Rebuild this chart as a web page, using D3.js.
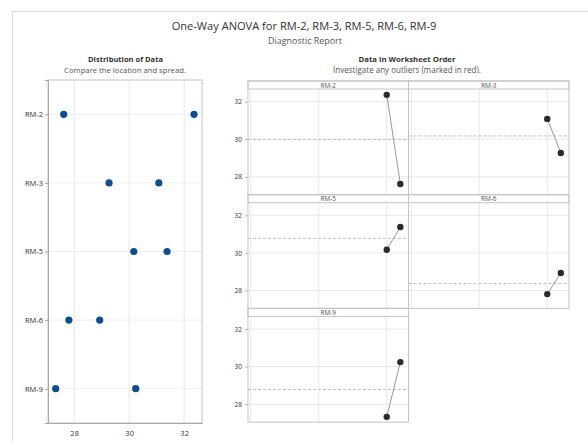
<!DOCTYPE html>
<html><head><meta charset="utf-8">
<script src="https://cdn.jsdelivr.net/npm/d3@7"></script>
<style>
body{margin:0;background:#fff;}
svg text{font-family:"Open Sans","Noto Sans",sans-serif;}
</style>
</head><body>
<svg id="c" width="588" height="441"></svg>
<script>
// ---- data ----
const groups = ["RM-2", "RM-3", "RM-5", "RM-6", "RM-9"];
const firstObs = [32.36, 31.08, 30.17, 27.81, 27.33];
const secondObs = [27.62, 29.27, 31.38, 28.93, 30.24];
const rowNumbers = [10, 11];
const valueTicks = [28, 30, 32];
const orderTicks = [0, 5, 10];
const titleText = "One-Way ANOVA for RM-2, RM-3, RM-5, RM-6, RM-9";
const subtitleText = "Diagnostic Report";

const svg = d3.select("#c");
const gridColor = "#e8e8e8";
const frameColor = "#c4c4c4";
const fmt = d3.format("d");

// outer frame
svg.append("rect").attr("x", 12.5).attr("y", 11.5).attr("width", 600).attr("height", 460)
  .attr("fill", "none").attr("stroke", "#dedede");

function fitText(sel, target) {
  const n = sel.node();
  const fs = parseFloat(sel.attr("font-size"));
  const w = n.getComputedTextLength();
  if (w > 0) sel.attr("font-size", (fs * target / w).toFixed(2));
}

const t1 = svg.append("text").attr("x", 304).attr("y", 30).attr("text-anchor", "middle")
  .attr("font-size", 13).attr("fill", "#333").text(titleText);
fitText(t1, 265);
const t2 = svg.append("text").attr("x", 305).attr("y", 43.5).attr("text-anchor", "middle")
  .attr("font-size", 10).attr("fill", "#555").text(subtitleText);
fitText(t2, 74);

// ---- left: distribution of data ----
const L = {x0: 48, x1: 202, y0: 80, y1: 423};
const h1 = svg.append("text").attr("x", 125.5).attr("y", 62).attr("text-anchor", "middle")
  .attr("font-size", 8).attr("font-weight", "bold").attr("fill", "#333").text("Distribution of Data");
fitText(h1, 75);
const h2 = svg.append("text").attr("x", 125).attr("y", 72.5).attr("text-anchor", "middle")
  .attr("font-size", 8).attr("fill", "#555").text("Compare the location and spread.");
fitText(h2, 122);

const xL = d3.scaleLinear().domain([27.05, 32.65]).range([L.x0, L.x1]);
const yL = d3.scalePoint().domain(groups).range([L.y0, L.y1]).padding(0.5);

const gl = svg.append("g");
gl.selectAll(".vg").data(valueTicks).join("line")
  .attr("x1", d => xL(d)).attr("x2", d => xL(d)).attr("y1", L.y0).attr("y2", L.y1)
  .attr("stroke", gridColor);
gl.selectAll(".hg").data(groups).join("line")
  .attr("x1", L.x0).attr("x2", L.x1).attr("y1", d => yL(d)).attr("y2", d => yL(d))
  .attr("stroke", "#f0f0f0");
gl.append("rect").attr("x", L.x0).attr("y", L.y0).attr("width", L.x1 - L.x0).attr("height", L.y1 - L.y0)
  .attr("fill", "none").attr("stroke", frameColor);

const axL = gl.append("g").attr("transform", `translate(${L.x0},0)`)
  .call(d3.axisLeft(yL).tickSize(3).tickPadding(2));
const axB = gl.append("g").attr("transform", `translate(0,${L.y1})`)
  .call(d3.axisBottom(xL).tickValues(valueTicks).tickFormat(fmt).tickSize(0).tickPadding(8));
[axL, axB].forEach(a => {
  a.select(".domain").attr("stroke", "#a8a8a8");
  a.selectAll(".tick line").attr("stroke", "#a8a8a8");
  a.selectAll("text").attr("font-size", 7.5).attr("fill", "#333")
    .attr("font-family", "'Open Sans','Noto Sans',sans-serif");
});

const pts = [];
groups.forEach((g, i) => { pts.push({g, v: firstObs[i]}); pts.push({g, v: secondObs[i]}); });
gl.selectAll(".dot").data(pts).join("circle")
  .attr("cx", d => xL(d.v)).attr("cy", d => yL(d.g)).attr("r", 3.6)
  .attr("fill", "#0e4e8e");

// ---- right: data in worksheet order ----
const R = {x0: 248, colW: 160.5, y0: 81, rowH: 113.7, strip: 8};
const h3 = svg.append("text").attr("x", 407).attr("y", 62).attr("text-anchor", "middle")
  .attr("font-size", 8).attr("font-weight", "bold").attr("fill", "#333").text("Data in Worksheet Order");
fitText(h3, 97);
const h4 = svg.append("text").attr("x", 407).attr("y", 72.5).attr("text-anchor", "middle")
  .attr("font-size", 8).attr("fill", "#555").text("Investigate any outliers (marked in red).");
fitText(h4, 148);

groups.forEach((g, i) => {
  const col = i % 2, row = Math.floor(i / 2);
  const px0 = R.x0 + col * R.colW, px1 = px0 + R.colW;
  const py0 = R.y0 + row * R.rowH, pyTop = py0 + R.strip, py1 = py0 + R.rowH;
  const x = d3.scaleLinear().domain([-0.2, 11.6]).range([px0, px1]);
  const y = d3.scaleLinear().domain([27.05, 32.67]).range([py1, pyTop]);
  const p = svg.append("g");
  p.selectAll(".vg").data(orderTicks).join("line")
    .attr("x1", d => x(d)).attr("x2", d => x(d)).attr("y1", pyTop).attr("y2", py1)
    .attr("stroke", gridColor);
  p.selectAll(".hg").data(valueTicks).join("line")
    .attr("x1", px0).attr("x2", px1).attr("y1", d => y(d)).attr("y2", d => y(d))
    .attr("stroke", gridColor);
  const vals = [firstObs[i], secondObs[i]];
  const m = d3.mean(vals);
  p.append("line").attr("x1", px0).attr("x2", px1).attr("y1", y(m)).attr("y2", y(m))
    .attr("stroke", "#c0c0c0").attr("stroke-dasharray", "3,2");
  // strip
  p.append("rect").attr("x", px0).attr("y", py0).attr("width", R.colW).attr("height", R.strip)
    .attr("fill", "#fff").attr("stroke", frameColor);
  p.append("text").attr("x", (px0 + px1) / 2).attr("y", py0 + 6.6).attr("text-anchor", "middle")
    .attr("font-size", 6.5).attr("fill", "#555").text(g);
  p.append("rect").attr("x", px0).attr("y", py0).attr("width", R.colW).attr("height", R.rowH)
    .attr("fill", "none").attr("stroke", frameColor);
  if (col === 0) {
    const ax = p.append("g").attr("transform", `translate(${px0},0)`)
      .call(d3.axisLeft(y).tickValues(valueTicks).tickFormat(fmt).tickSize(3).tickPadding(3));
    ax.select(".domain").remove();
    ax.selectAll(".tick line").attr("stroke", "#bbb");
    ax.selectAll("text").attr("font-size", 6.5).attr("fill", "#333")
      .attr("font-family", "'Open Sans','Noto Sans',sans-serif");
  }
  const line = d3.line().x((d, k) => x(rowNumbers[k])).y(d => y(d));
  p.append("path").attr("d", line(vals)).attr("fill", "none").attr("stroke", "#8c8c8c").attr("stroke-width", 0.9);
  p.selectAll(".pt").data(vals).join("circle")
    .attr("cx", (d, k) => x(rowNumbers[k])).attr("cy", d => y(d)).attr("r", 3.2)
    .attr("fill", "#2b2b2b");
});
</script>
</body></html>
